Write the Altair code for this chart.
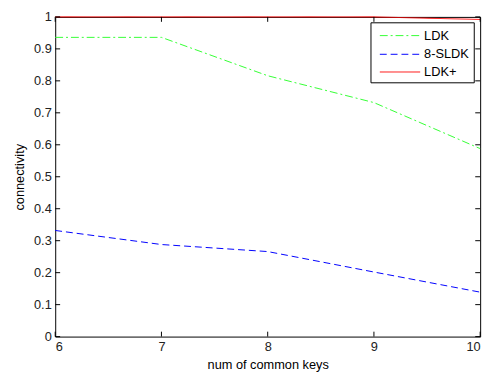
import altair as alt
import pandas as pd

keys = [6, 7, 8, 9, 10]
ldk = [0.936, 0.936, 0.816, 0.732, 0.588]
sldk8 = [0.332, 0.288, 0.266, 0.202, 0.139]
ldk_plus = [1.0, 1.0, 1.0, 1.0, 0.992]
series_names = ["LDK", "8-SLDK", "LDK+"]
series_colors = ["#33ff33", "#0000ff", "#ff0000"]
series_dash = [[8, 3, 2, 3], [7, 4], [1, 0]]
x_ticks = [6, 7, 8, 9, 10]
y_ticks = [0, 0.1, 0.2, 0.3, 0.4, 0.5, 0.6, 0.7, 0.8, 0.9, 1]

rows = []
for name, vals in zip(series_names, [ldk, sldk8, ldk_plus]):
    for k, v in zip(keys, vals):
        rows.append({"keys": k, "value": v, "series": name})
df = pd.DataFrame(rows)

W, H = 432, 325
FONT = "Liberation Sans"

xs = alt.Scale(domain=[6, 10], nice=False)
ys = alt.Scale(domain=[0, 1], nice=False)
x_axis = alt.Axis(values=x_ticks, tickSize=0, domain=False, grid=False,
                  labelPadding=4, titlePadding=5, format="d", labelOverlap=False)
y_axis = alt.Axis(values=y_ticks, tickSize=0, domain=False, grid=False,
                  labelPadding=4, titlePadding=7, format="~g", labelOverlap=False)
XT = "num of common keys"
YT = "connectivity"

lines = alt.Chart(df).mark_line(strokeWidth=1, clip=False).encode(
    x=alt.X("keys:Q", scale=xs, title=XT, axis=x_axis),
    y=alt.Y("value:Q", scale=ys, title=YT, axis=y_axis),
    color=alt.Color("series:N", scale=alt.Scale(domain=series_names, range=series_colors),
                    legend=None),
    strokeDash=alt.StrokeDash("series:N", scale=alt.Scale(domain=series_names, range=series_dash),
                              legend=None),
)

tx = pd.DataFrame({"t": x_ticks})
ty = pd.DataFrame({"t": y_ticks})
tick_col = "#000000"
bx = alt.Chart(tx).mark_rule(color=tick_col, strokeWidth=1).encode(
    x=alt.X("t:Q", scale=xs, title=XT, axis=x_axis), y=alt.value(H), y2=alt.value(H - 5))
tx_top = alt.Chart(tx).mark_rule(color=tick_col, strokeWidth=1).encode(
    x=alt.X("t:Q", scale=xs, title=XT, axis=x_axis), y=alt.value(0), y2=alt.value(5))
ly = alt.Chart(ty).mark_rule(color=tick_col, strokeWidth=1).encode(
    y=alt.Y("t:Q", scale=ys, title=YT, axis=y_axis), x=alt.value(0), x2=alt.value(5))
ry = alt.Chart(ty).mark_rule(color=tick_col, strokeWidth=1).encode(
    y=alt.Y("t:Q", scale=ys, title=YT, axis=y_axis), x=alt.value(W), x2=alt.value(W - 5))

# manual legend (MATLAB style box)
leg_box = alt.Chart(pd.DataFrame({"a": [0]})).mark_rect(
    fill="#ffffff", stroke="#000000", strokeWidth=1).encode(
    x=alt.value(321), x2=alt.value(426), y=alt.value(6), y2=alt.value(67))
leg_layers = [leg_box]
row_y = [19, 38, 56]
for name, col, dash, yy in zip(series_names, series_colors, series_dash, row_y):
    ld = pd.DataFrame({"series": [name]})
    leg_layers.append(alt.Chart(ld).mark_rule(color=col, strokeWidth=1, strokeDash=dash).encode(
        x=alt.value(330), x2=alt.value(371), y=alt.value(yy)))
    leg_layers.append(alt.Chart(ld).mark_text(
        align="left", baseline="middle", font=FONT, fontSize=13, color="#000000").encode(
        x=alt.value(375), y=alt.value(yy), text="series:N"))

chart = alt.layer(lines, bx, tx_top, ly, ry, *leg_layers).properties(
    width=W, height=H,
    background="#ffffff",
    autosize=alt.AutoSizeParams(type="none"),
    padding={"left": 48, "top": 6, "right": 10, "bottom": 37},
).configure_view(stroke="#000000", strokeWidth=1).configure_axis(
    labelFont=FONT, labelFontSize=13, labelColor="#222222",
    titleFont=FONT, titleFontSize=13, titleFontWeight="normal", titleColor="#000000",
)

chart.save("out.html", embed_options={"renderer": "svg", "actions": False})
